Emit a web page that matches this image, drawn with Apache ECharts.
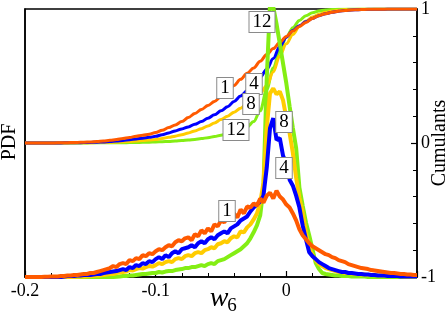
<!DOCTYPE html>
<html>
<head>
<meta charset="utf-8">
<script src="https://cdn.jsdelivr.net/npm/echarts@6/dist/echarts.min.js"></script>
<style>html,body{margin:0;padding:0;background:#fff}#c{width:447px;height:315px}</style>
</head>
<body>
<div id="c"></div>
<script>
// x grid of the PDF histograms
const xPdf = [-0.2,-0.1975,-0.195,-0.1925,-0.19,-0.1875,-0.185,-0.1825,-0.18,-0.1775,
-0.175,-0.1725,-0.17,-0.1675,-0.165,-0.1625,-0.16,-0.1575,-0.155,-0.1525,
-0.15,-0.1475,-0.145,-0.1425,-0.14,-0.1375,-0.135,-0.1325,-0.13,-0.1275,
-0.125,-0.1225,-0.12,-0.1175,-0.115,-0.1125,-0.11,-0.1075,-0.105,-0.1025,
-0.1,-0.0975,-0.095,-0.0925,-0.09,-0.0875,-0.085,-0.0825,-0.08,-0.0775,
-0.075,-0.0725,-0.07,-0.0675,-0.065,-0.0625,-0.06,-0.0575,-0.055,-0.0525,
-0.05,-0.0475,-0.045,-0.0425,-0.04,-0.0375,-0.035,-0.0325,-0.03,-0.0275,
-0.025,-0.0225,-0.02,-0.0175,-0.015,-0.0125,-0.01,-0.0075,-0.005,-0.0025,
0,0.0025,0.005,0.0075,0.01,0.0125,0.015,0.0175,0.02,0.0225,
0.025,0.0275,0.03,0.0325,0.035,0.0375,0.04,0.0425,0.045,0.0475,
0.05,0.0525,0.055,0.0575,0.06,0.0625,0.065,0.0675,0.07,0.0725,
0.075,0.0775,0.08,0.0825,0.085,0.0875,0.09,0.0925,0.095,0.0975,0.1];

// PDFs (arbitrary units, left axis)
const pdf1 = [0,0,0,0,0,0,0.2,0.3,0.4,0.5,
0.5,1,1,1.5,1.5,2,2,2.5,3,3,
4,4,5,6,7,8,9,11,10,13,
14,13,17,16,19,18,22,21,24,23,
26,28,27,30,32,31,35,37,36,39,
40,37,43,41,47,44,49,46,53,51,
57,55,60,58,64,60,68,64,71,70,
74,72,79,75,82,85,79,87,81,78,
73,70,64,57,48,42,38,34,31,29,
27,25,23,22,20,19,17,16,15,13,
12,11,10,9,8.5,8,7,6.5,6,5.5,
5,4.5,4,4,3.5,3,3,2.5,2.5,2,2];
const pdf4 = [0,0,0,0,0,0,0,0,0,0,
0,0,0.5,1,1,1,1.5,1.5,2,2,
2,2.5,3,3,4,4.5,5,5.5,6,7,
8,7,10,9,12,11,14,13,16,15,
18,20,18,22,20,24,26,24,28,29,
30,32,30,34,36,34,38,40,38,42,
44,46,44,49,51,53,57,59,61,66,
70,73,76,82,110,150,160,138,140,122,
115,98,92,82,70,52,38,25,21,18,
15,13,11,9,8,7,6,5,5,4,
4,3.5,3,3,2.5,2.5,2,2,1.5,1.5,
1.5,1,1,1,1,0.5,0.5,0.5,0.5,0.5,0.5];
const pdf8 = [0,0,0,0,0,0,0,0,0,0,
0,0,0,0,0,0,0.3,0.5,0.5,0.8,
1,1,1.5,1.5,2,2.5,3,3,4,4.5,
5,5.5,7,6.5,8,9,8.5,10,11,10.5,
12,14,13,15,16,15,18,19,18,21,
22,21,24,25,24,27,28,30,29,33,
34,36,35,39,41,40,46,45,50,53,
58,64,75,95,150,185,190,184,187,178,
160,145,125,100,80,65,45,30,22,17,
13,11,9,8,7,6,5,5,4,4,
3.5,3,3,2.5,2.5,2,2,2,1.5,1.5,
1.5,1,1,1,1,1,0.5,0.5,0.5,0.5,0.5];
const pdf12 = [0,0,0,0,0,0,0,0,0,0,
0,0,0,0,0,0,0,0,0,0,
0,0,0,0,0,0,0,0,0.3,0.5,
1,1,1.5,1.5,2,2.5,3,3,3.5,4,
4,5,4.5,5.5,6,6,7,7.5,8,9,
9,10,10,11,12,11,13,14,13,16,
17,18,20,22,24,26,28,31,34,39,
45,52,62,90,200,275,272,255,235,215,
195,172,150,130,90,72,55,42,28,14,
8,4,3,2.5,2,1.5,1.5,1,1,1,
0.5,0.5,0.5,0.5,0.5,0,0,0,0,0,
0,0,0,0,0,0,0,0,0,0,0];

// x grid of the cumulative distributions
const xCdf = [-0.2,-0.195,-0.19,-0.185,-0.18,-0.175,-0.17,-0.165,-0.16,-0.155,
-0.15,-0.145,-0.14,-0.135,-0.13,-0.125,-0.12,-0.115,-0.11,-0.105,
-0.1,-0.095,-0.09,-0.085,-0.08,-0.075,-0.07,-0.065,-0.06,-0.055,
-0.05,-0.045,-0.04,-0.035,-0.03,-0.025,-0.02,-0.015,-0.01,-0.005,
0,0.005,0.01,0.015,0.02,0.025,0.03,0.035,0.04,0.045,
0.05,0.055,0.06,0.065,0.07,0.075,0.08,0.085,0.09,0.095,0.1];

// Cumulants (right axis, 0..1)
const cdf1 = [0,0,0,0,0,0.001,0.002,0.003,0.004,0.006,
0.008,0.011,0.015,0.02,0.026,0.033,0.041,0.05,0.058,0.066,
0.078,0.095,0.115,0.135,0.16,0.19,0.22,0.25,0.28,0.31,
0.345,0.385,0.43,0.475,0.52,0.56,0.61,0.66,0.705,0.75,
0.795,0.835,0.87,0.9,0.93,0.95,0.965,0.975,0.983,0.989,
0.993,0.995,0.997,0.998,0.999,0.999,1,1,1,1,1];
const cdf4 = [0,0,0,0,0,0,0.001,0.001,0.002,0.003,
0.004,0.006,0.008,0.011,0.015,0.019,0.024,0.03,0.036,0.042,
0.05,0.062,0.075,0.09,0.105,0.12,0.14,0.16,0.185,0.21,
0.24,0.27,0.31,0.35,0.39,0.435,0.49,0.55,0.63,0.72,
0.79,0.84,0.875,0.905,0.93,0.95,0.965,0.975,0.983,0.989,
0.993,0.995,0.997,0.998,0.999,0.999,1,1,1,1,1];
const cdf8 = [0,0,0,0,0,0,0,0,0.001,0.001,
0.002,0.003,0.004,0.005,0.007,0.009,0.012,0.015,0.018,0.022,
0.027,0.034,0.042,0.051,0.062,0.075,0.09,0.107,0.127,0.15,
0.175,0.2,0.23,0.26,0.295,0.33,0.37,0.43,0.53,0.65,
0.74,0.81,0.87,0.91,0.94,0.96,0.975,0.985,0.99,0.994,
0.996,0.998,0.999,0.999,1,1,1,1,1,1,1];
const cdf12 = [0,0,0,0,0,0,0,0,0,0,
0.001,0.001,0.001,0.002,0.002,0.002,0.003,0.004,0.005,0.006,
0.008,0.01,0.012,0.015,0.018,0.022,0.027,0.033,0.04,0.048,
0.058,0.07,0.085,0.1,0.12,0.16,0.24,0.4,0.56,0.69,
0.79,0.86,0.915,0.95,0.972,0.985,0.992,0.996,0.998,0.999,
1,1,1,1,1,1,1,1,1,1,1];

const xTicks = [-0.2, -0.1, 0];
const cumTicks = [-1, 0, 1];

const colors = {c1:'#FF5A00', c4:'#0000FF', c8:'#FFCC00', c12:'#84EE14'};
const SERIF = '"Liberation Serif", "DejaVu Serif", serif';

function pairs(xs, ys){ return xs.map((x,i)=>[x, ys[i]]); }
function lineSeries(name, xs, ys, color, yIdx, smooth){
  return {name, type:'line', xAxisIndex:0, yAxisIndex:yIdx, data:pairs(xs,ys),
    showSymbol:false, symbol:'none', smooth: smooth ? 0.35 : false,
    smoothMonotone: smooth ? 'x' : undefined,
    lineStyle:{color, width: smooth ? 3 : 4}, itemStyle:{color}, clip:true};
}

const chart = echarts.init(document.getElementById('c'), null, {renderer:'canvas'});

function boxLabel(txt, x, y){
  return {type:'text', z:100, style:{text:txt, x, y, font:'19px ' + SERIF, fill:'#000',
    align:'center', verticalAlign:'middle', backgroundColor:'#fff', borderColor:'#8a8a8a',
    borderWidth:1, padding:[1,3,0,3], lineHeight:19}};
}

chart.setOption({
  animation:false,
  backgroundColor:'#fff',
  grid:{left:25, right:30, top:7, bottom:38, show:true, borderColor:'#000', borderWidth:1.5, backgroundColor:'transparent'},
  xAxis:{type:'value', min:-0.2, max:0.1, interval:0.1,
    axisLine:{onZero:false, lineStyle:{color:'#000', width:1.5}},
    axisTick:{inside:true, length:6, lineStyle:{color:'#000', width:1.2}},
    minorTick:{show:true, splitNumber:5, length:4, lineStyle:{color:'#000', width:1}},
    splitLine:{show:false},
    axisLabel:{color:'#000', fontFamily:SERIF, fontSize:18, margin:5, showMaxLabel:false,
      formatter:function(v){
        for (const t of xTicks){ if (Math.abs(v - t) < 1e-9) return t === 0 ? '0' : t.toFixed(1); }
        return '';
      }}
  },
  yAxis:[
    {type:'value', position:'right', min:-1, max:1, interval:1,
      axisLine:{show:true, onZero:false, lineStyle:{color:'#000', width:1.5}},
      axisTick:{show:true, inside:true, length:6, lineStyle:{color:'#000', width:1.2}},
      minorTick:{show:true, splitNumber:5, length:4, lineStyle:{color:'#000', width:1}},
      splitLine:{show:false},
      axisLabel:{color:'#000', fontFamily:SERIF, fontSize:18, margin:4,
        formatter:function(v){ for (const t of cumTicks){ if (Math.abs(v-t)<1e-9) return String(t); } return ''; }}
    },
    {type:'value', position:'left', min:0, max:270,
      axisLine:{show:true, onZero:false, lineStyle:{color:'#000', width:1.5}},
      axisTick:{show:false}, axisLabel:{show:false}, splitLine:{show:false}
    }
  ],
  series:[
    lineSeries('cdf12', xCdf, cdf12, colors.c12, 0, true),
    lineSeries('cdf8', xCdf, cdf8, colors.c8, 0, true),
    lineSeries('cdf4', xCdf, cdf4, colors.c4, 0, true),
    lineSeries('cdf1', xCdf, cdf1, colors.c1, 0, true),
    lineSeries('pdf12', xPdf, pdf12, colors.c12, 1, false),
    lineSeries('pdf8', xPdf, pdf8, colors.c8, 1, false),
    lineSeries('pdf4', xPdf, pdf4, colors.c4, 1, false),
    lineSeries('pdf1', xPdf, pdf1, colors.c1, 1, false)
  ],
  graphic:[
    {type:'text', z:100, rotation:Math.PI/2, x:10, y:142,
      style:{text:'PDF', font:'20px ' + SERIF, fill:'#000', align:'center', verticalAlign:'middle'}},
    {type:'text', z:100, rotation:Math.PI/2, x:440, y:143,
      style:{text:'Cumulants', font:'20px ' + SERIF, fill:'#000', align:'center', verticalAlign:'middle'}},
    {type:'text', z:100, x:219, y:299,
      style:{text:'w', font:'italic 28px ' + SERIF, fill:'#000', align:'center', verticalAlign:'middle'}},
    {type:'text', z:100, x:232, y:306,
      style:{text:'6', font:'19px ' + SERIF, fill:'#000', align:'center', verticalAlign:'middle'}},
    boxLabel('12', 262, 22),
    boxLabel('1', 225, 88),
    boxLabel('4', 254, 84),
    boxLabel('8', 251, 104),
    boxLabel('12', 236, 130),
    boxLabel('8', 284, 122),
    boxLabel('4', 284, 168),
    boxLabel('1', 227, 211)
  ]
});
</script>
</body>
</html>
